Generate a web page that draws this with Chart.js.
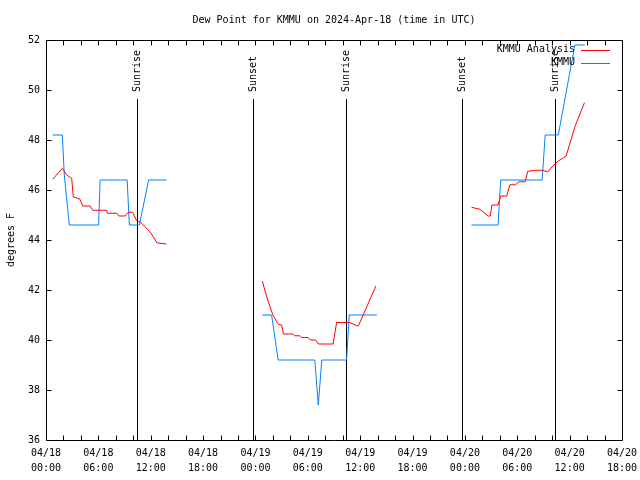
<!DOCTYPE html>
<html>
<head>
<meta charset="utf-8">
<script src="https://cdn.jsdelivr.net/npm/chart.js@4"></script>
<style>
  body { margin: 0; background: #fff; }
</style>
</head>
<body>
<canvas id="chart" width="640" height="480"></canvas>
<script>
// Hours since 04/18 00:00 UTC, dew point in degrees F (null = no data)
const obsHours = [0.77, 1.87, 2.1, 2.67, 6.03, 6.2, 9.3, 9.55, 10.7, 11.76, 13.8, 20,
  24.78, 25.85, 26.6, 30.8, 31.2, 31.6, 34.44, 34.75, 37.9, 44,
  48.76, 51.8, 52.1, 56.85, 57.2, 58.7, 60.6, 61.74]
const obsDew = [48.2, 48.2, 46.6, 44.6, 44.6, 46.4, 46.4, 44.6, 44.6, 46.4, 46.4, null,
  41.0, 41.0, 39.2, 39.2, 37.4, 39.2, 39.2, 41.0, 41.0, null,
  44.6, 44.6, 46.4, 46.4, 48.2, 48.2, 51.8, 51.8]

const anaHours = [0.77, 1.87, 2.37, 2.94, 3.13, 3.9, 4.2, 5.04, 5.35, 6.95, 7.05, 8.1, 8.36, 9.05,
  9.43, 9.93, 10.39, 10.77, 11.34, 11.9, 12.3, 12.7, 13.8, 20,
  24.78, 25.4, 26.0, 26.6, 27.0, 27.2, 28.3, 28.5, 29.1, 29.3, 30.05, 30.3, 30.9, 31.2, 32.9,
  33.3, 34.8, 35.6, 35.8, 37.8, 44,
  48.76, 49.7, 50.67, 50.9, 51.1, 51.8, 52.1, 52.8, 53.15, 53.8, 54.2, 54.9, 55.2, 56.1, 56.8,
  57.5, 58.1, 58.7, 59.6, 60.6, 61.7]
const anaDew = [46.43, 46.87, 46.6, 46.47, 45.73, 45.63, 45.36, 45.36, 45.19, 45.19, 45.07, 45.07, 44.96, 44.96,
  45.11, 45.11, 44.77, 44.73, 44.53, 44.33, 44.13, 43.89, 43.84, null,
  42.36, 41.6, 41.0, 40.63, 40.6, 40.24, 40.24, 40.17, 40.17, 40.1, 40.1, 40.0, 40.0, 39.84, 39.84,
  40.7, 40.7, 40.57, 40.57, 42.16, null,
  45.31, 45.23, 44.96, 44.96, 45.4, 45.4, 45.76, 45.76, 46.21, 46.21, 46.33, 46.33, 46.75, 46.79, 46.79,
  46.73, 46.97, 47.16, 47.36, 48.53, 49.49]

// Sun events (hours since 04/18 00:00 UTC)
const sunHours = [10.4, 23.7, 34.35, 47.7, 58.3]
const sunLabels = ["Sunrise", "Sunset", "Sunrise", "Sunset", "Sunrise"]

// x tick labels every 6 hours
const xTickDates = ["04/18", "04/18", "04/18", "04/18", "04/19", "04/19", "04/19", "04/19", "04/20", "04/20", "04/20", "04/20"]
const xTickTimes = ["00:00", "06:00", "12:00", "18:00", "00:00", "06:00", "12:00", "18:00", "00:00", "06:00", "12:00", "18:00"]

const chartTitle = "Dew Point for KMMU on 2024-Apr-18 (time in UTC)"

const FONT = "'DejaVu Sans Mono', 'Liberation Mono', monospace"
const toPoints = (xs, ys) => xs.map((x, i) => ({ x, y: ys[i] }))

// Title over the plot, frame, inward ticks, sun lines and the gnuplot-style key
const decor = {
  id: "decor",
  beforeDatasetsDraw(chart) {
    const { ctx, chartArea: a, scales: { x } } = chart
    ctx.save()
    ctx.strokeStyle = "#000"
    ctx.fillStyle = "#000"
    ctx.lineWidth = 1
    ctx.font = `10px ${FONT}`
    // title centred on the plot area
    ctx.textAlign = "center"
    ctx.textBaseline = "middle"
    ctx.fillText(chartTitle, (a.left + a.right) / 2, 20)
    sunHours.forEach((h, i) => {
      const px = Math.round(x.getPixelForValue(h)) + 0.5
      ctx.beginPath()
      ctx.moveTo(px, a.top + 59)
      ctx.lineTo(px, a.bottom)
      ctx.stroke()
      ctx.save()
      ctx.translate(px, a.top + 52)
      ctx.rotate(-Math.PI / 2)
      ctx.textAlign = "left"
      ctx.textBaseline = "middle"
      ctx.fillText(sunLabels[i], 0, 0)
      ctx.restore()
    })
    ctx.restore()
  },
  afterDraw(chart) {
    const { ctx, chartArea: a, scales: { x, y } } = chart
    ctx.save()
    ctx.strokeStyle = "#000"
    ctx.lineWidth = 1
    const L = Math.round(a.left) + 0.5
    const R = Math.round(a.right) + 0.5
    const T = Math.round(a.top) + 0.5
    const B = Math.round(a.bottom) + 0.5
    ctx.beginPath()
    ctx.rect(L, T, R - L, B - T)
    for (let h = x.min; h <= x.max; h += 2) {
      const px = Math.round(x.getPixelForValue(h)) + 0.5
      ctx.moveTo(px, B); ctx.lineTo(px, B - 5)
      ctx.moveTo(px, T); ctx.lineTo(px, T + 5)
    }
    for (let v = y.min; v <= y.max; v += 2) {
      const py = Math.round(y.getPixelForValue(v)) + 0.5
      ctx.moveTo(L, py); ctx.lineTo(L + 5, py)
      ctx.moveTo(R, py); ctx.lineTo(R - 5, py)
    }
    ctx.stroke()

    // key
    ctx.font = `10px ${FONT}`
    ctx.fillStyle = "#000"
    ctx.textAlign = "right"
    ctx.textBaseline = "middle"
    chart.data.datasets.forEach((ds, i) => {
      const ly = a.top + 9.5 + i * 13
      ctx.fillText(ds.label, 575, ly)
      ctx.strokeStyle = ds.borderColor
      ctx.beginPath()
      ctx.moveTo(581, Math.round(ly) + 0.5)
      ctx.lineTo(610, Math.round(ly) + 0.5)
      ctx.stroke()
    })
    ctx.restore()
  },
}

new Chart(document.getElementById("chart"), {
  type: "line",
  data: {
    datasets: [
      {
        label: "KMMU Analysis",
        data: toPoints(anaHours, anaDew),
        borderColor: "#ff0000",
        borderWidth: 1,
        pointRadius: 0,
        spanGaps: false,
      },
      {
        label: "KMMU",
        data: toPoints(obsHours, obsDew),
        borderColor: "#0080ff",
        borderWidth: 1,
        pointRadius: 0,
        spanGaps: false,
      },
    ],
  },
  options: {
    responsive: false,
    animation: false,
    devicePixelRatio: 1,
    layout: { padding: { left: 0, right: 18, top: 40, bottom: 0 } },
    plugins: {
      legend: { display: false },
      tooltip: { enabled: false },
      title: { display: false },
    },
    scales: {
      x: {
        type: "linear",
        min: 0,
        max: 66,
        grid: { display: false, drawTicks: false },
        border: { display: false },
        ticks: {
          stepSize: 6,
          autoSkip: false,
          maxRotation: 0,
          padding: 6,
          color: "#000",
          font: { family: FONT, size: 10, lineHeight: 1.5 },
          callback: (v) => {
            const i = Math.round(v / 6)
            return [xTickDates[i], xTickTimes[i]]
          },
        },
        afterFit: (scale) => {
          scale.height = 40
          scale.paddingLeft = 0
          scale.paddingRight = 0
        },
      },
      y: {
        min: 36,
        max: 52,
        grid: { display: false, drawTicks: false },
        border: { display: false },
        ticks: {
          stepSize: 2,
          padding: 6,
          color: "#000",
          font: { family: FONT, size: 10 },
        },
        title: {
          display: true,
          text: "degrees F",
          color: "#000",
          font: { family: FONT, size: 10, lineHeight: 1.2 },
          padding: { top: 5, bottom: 0 },
        },
        afterFit: (scale) => {
          scale.width = 46
          scale.paddingTop = 0
          scale.paddingBottom = 0
        },
      },
    },
  },
  plugins: [decor],
})
</script>
</body>
</html>
